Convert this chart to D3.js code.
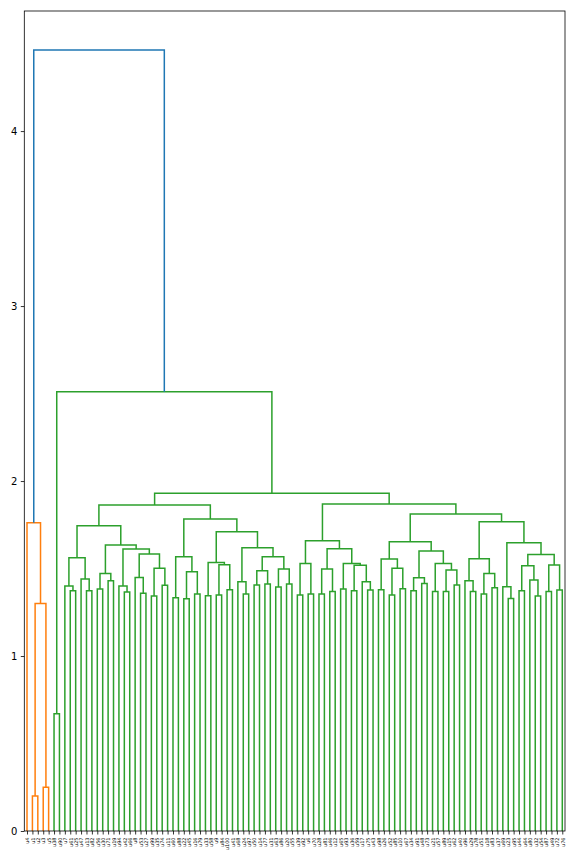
<!DOCTYPE html>
<html>
<head>
<meta charset="utf-8">
<script src="https://cdn.jsdelivr.net/npm/d3@7"></script>
<style>
body { margin: 0; background: #fff; }
</style>
</head>
<body>
<svg id="dendro" width="576" height="864"></svg>
<script>
// leaves in plot order (left to right)
const leafLabels = [
  "u4","u1","u2","u3","u5","u38","u90","u7","u61","u25",
  "u47","u13","u82","u56","u30","u71","u19","u94","u42","u66",
  "u8","u53","u27","u99","u35","u74","u11","u60","u88","u22",
  "u45","u16","u79","u33","u58","u9","u84","u100","u41","u68",
  "u24","u97","u50","u14","u77","u31","u63","u86","u20","u55",
  "u39","u92","u6","u70","u28","u81","u46","u12","u65","u93",
  "u36","u59","u17","u75","u43","u98","u26","u52","u85","u10",
  "u67","u34","u91","u48","u73","u21","u57","u89","u15","u62",
  "u40","u96","u29","u78","u51","u18","u83","u37","u69","u23",
  "u95","u44","u64","u80","u32","u54","u87","u49","u72","u76"
];

// linkage: [left, right, height]; ids < 100 are leaves, id 100+k is merges[k]
const merges = [
  [1, 2, 0.20], [3, 4, 0.25], [100, 101, 1.30], [0, 102, 1.762],
  [5, 6, 0.67],
  [8, 9, 1.373], [7, 105, 1.40], [11, 12, 1.373], [10, 107, 1.44], [106, 108, 1.562],
  [13, 14, 1.383], [15, 16, 1.43], [110, 111, 1.472], [18, 19, 1.366], [17, 113, 1.40],
  [21, 22, 1.358], [20, 115, 1.449], [23, 24, 1.343], [25, 26, 1.404], [117, 118, 1.501],
  [116, 119, 1.583], [114, 120, 1.611], [112, 121, 1.634], [109, 122, 1.745],
  [27, 28, 1.333], [29, 30, 1.327], [31, 32, 1.354], [125, 126, 1.481], [124, 127, 1.567],
  [33, 34, 1.345], [35, 36, 1.349], [37, 38, 1.379], [130, 131, 1.521], [129, 132, 1.535],
  [40, 41, 1.354], [39, 134, 1.424], [42, 43, 1.406], [44, 45, 1.411], [136, 137, 1.487],
  [46, 47, 1.394], [48, 49, 1.411], [139, 140, 1.497], [138, 141, 1.567], [135, 142, 1.619],
  [133, 143, 1.71], [128, 144, 1.783], [123, 145, 1.863],
  [50, 51, 1.349], [52, 53, 1.354], [147, 148, 1.528], [54, 55, 1.354], [56, 57, 1.368],
  [150, 151, 1.497], [58, 59, 1.383], [60, 61, 1.373], [63, 64, 1.377], [62, 155, 1.425],
  [154, 156, 1.518], [153, 157, 1.529], [152, 158, 1.613], [149, 159, 1.659],
  [65, 66, 1.379], [67, 68, 1.349], [69, 70, 1.384], [162, 163, 1.502], [161, 164, 1.555],
  [71, 72, 1.373], [73, 74, 1.415], [166, 167, 1.447], [75, 76, 1.368], [77, 78, 1.368],
  [79, 80, 1.406], [170, 171, 1.491], [169, 172, 1.529], [168, 173, 1.60], [165, 174, 1.653],
  [82, 83, 1.368], [81, 176, 1.43], [84, 85, 1.354], [86, 87, 1.39], [178, 179, 1.471],
  [177, 180, 1.556], [89, 90, 1.328], [88, 182, 1.396], [91, 92, 1.373], [94, 95, 1.343],
  [93, 185, 1.434], [184, 186, 1.516], [96, 97, 1.368], [98, 99, 1.377], [188, 189, 1.52],
  [187, 190, 1.58], [183, 191, 1.647], [181, 192, 1.767], [175, 193, 1.811],
  [160, 194, 1.869], [146, 195, 1.93], [104, 196, 2.51], [103, 197, 4.463]
];

const yTicks = [0, 1, 2, 3, 4];
const clusterColors = ["#ff7f0e", "#2ca02c", "#d62728", "#9467bd"];
const aboveColor = "#1f77b4";

const svg = d3.select("#dendro"),
  margin = {top: 11, right: 11, bottom: 33, left: 24.3},
  width = +svg.attr("width") - margin.left - margin.right,
  height = +svg.attr("height") - margin.top - margin.bottom,
  g = svg.append("g").attr("transform", "translate(" + margin.left + "," + margin.top + ")");

const n = leafLabels.length;
const nodeX = [], nodeH = [];
leafLabels.forEach(function(d, i) { nodeX[i] = 5 + 10 * i; nodeH[i] = 0; });
merges.forEach(function(m, k) {
  nodeX[n + k] = (nodeX[m[0]] + nodeX[m[1]]) / 2;
  nodeH[n + k] = m[2];
});

const maxH = d3.max(merges, function(d) { return d[2]; });
const threshold = 0.7 * maxH;

const x = d3.scaleLinear().domain([0, 10 * n]).range([0, width]);
const y = d3.scaleLinear().domain([0, maxH * 1.05]).range([height, 0]);

// colour like scipy: one colour per cluster below the threshold, left to right
const mergeColor = [];
let nextColor = 0;
function paint(id, color) {
  if (id < n) return;
  const m = merges[id - n];
  let c = color;
  if (m[2] >= threshold) c = aboveColor;
  else if (!c) c = clusterColors[nextColor++ % clusterColors.length];
  mergeColor[id - n] = c;
  const pass = c === aboveColor ? null : c;
  paint(m[0], pass);
  paint(m[1], pass);
}
paint(n + merges.length - 1, null);

g.append("g")
  .attr("fill", "none")
  .attr("stroke-width", 1.5)
  .selectAll("path")
  .data(merges)
  .enter().append("path")
    .attr("stroke", function(d, k) { return mergeColor[k]; })
    .attr("d", function(d) {
      return "M" + x(nodeX[d[0]]) + "," + y(nodeH[d[0]]) +
        "V" + y(d[2]) + "H" + x(nodeX[d[1]]) + "V" + y(nodeH[d[1]]);
    });

const yAxis = g.append("g")
  .call(d3.axisLeft(y).tickValues(yTicks).tickSize(3.5).tickPadding(3.5).tickFormat(d3.format("d")));
yAxis.select(".domain").remove();
yAxis.selectAll("line").attr("stroke", "#000").attr("stroke-width", 0.8);
yAxis.selectAll("text")
  .attr("fill", "#000")
  .style("font-family", "DejaVu Sans")
  .style("font-size", "10px");

const xAxis = g.append("g")
  .attr("transform", "translate(0," + height + ")")
  .call(d3.axisBottom(x)
    .tickValues(leafLabels.map(function(d, i) { return 5 + 10 * i; }))
    .tickFormat(function(d) { return leafLabels[(d - 5) / 10]; })
    .tickSize(3.5));
xAxis.select(".domain").remove();
xAxis.selectAll("line").attr("stroke", "#000").attr("stroke-width", 0.8);
xAxis.selectAll("text")
  .attr("fill", "#000")
  .attr("x", -6.5)
  .attr("y", 0)
  .attr("dy", "0.35em")
  .attr("transform", "rotate(-90)")
  .style("text-anchor", "end")
  .style("font-family", "DejaVu Sans")
  .style("font-size", "5px");

// axes frame
g.append("rect")
  .attr("width", width)
  .attr("height", height)
  .attr("fill", "none")
  .attr("stroke", "#000")
  .attr("stroke-width", 0.8);
</script>
</body>
</html>
